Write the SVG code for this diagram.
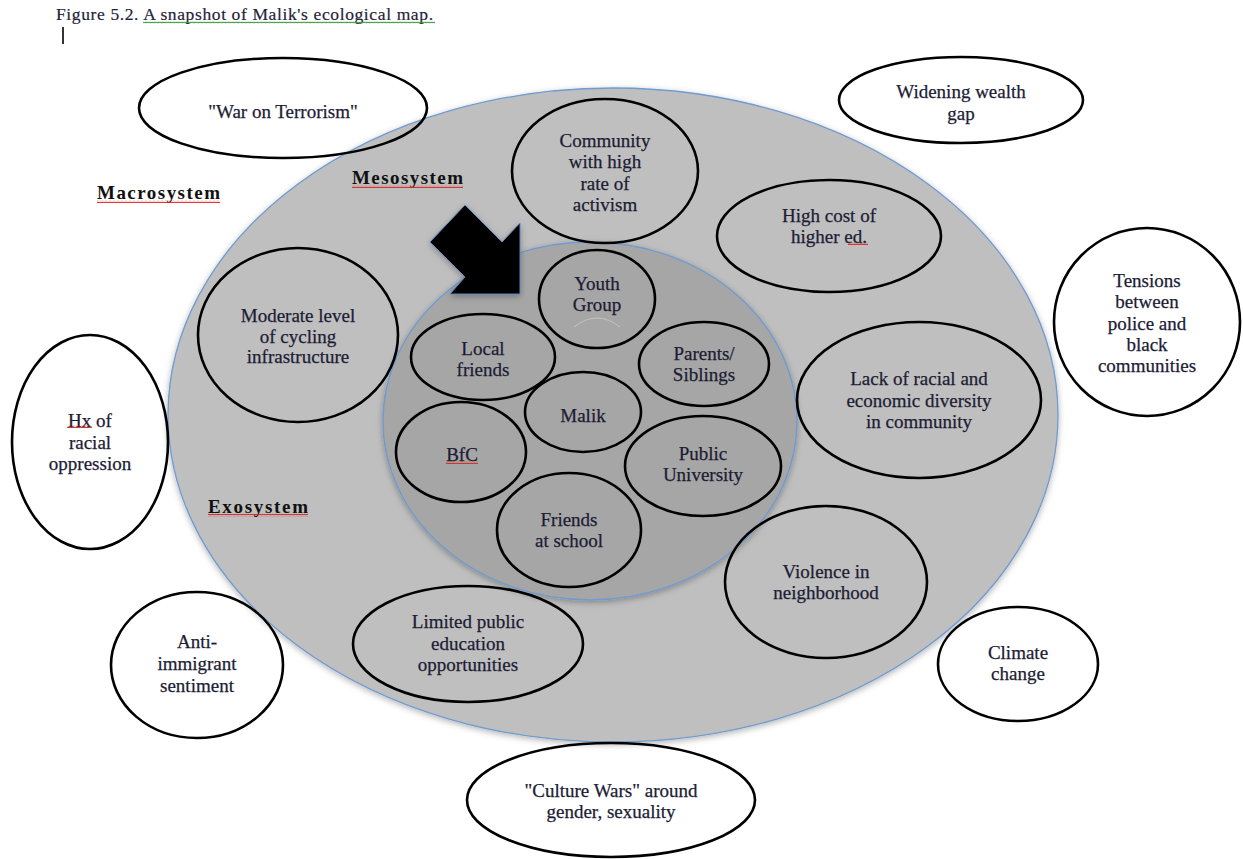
<svg xmlns="http://www.w3.org/2000/svg" width="1243" height="859" viewBox="0 0 1243 859">
  <style>
    .t { font-family: "Liberation Serif", "Times New Roman", serif; font-size: 19px; fill: #1c1c34; stroke: #1c1c34; stroke-width: 0.25; text-anchor: middle; }
    .lbl { font-family: "Liberation Serif", "Times New Roman", serif; font-size: 19px; font-weight: bold; fill: #111; }
    .cap { font-family: "Liberation Serif", "Times New Roman", serif; font-size: 17.5px; fill: #1f1f3a; stroke: #1f1f3a; stroke-width: 0.2; }
    .ring { fill: none; stroke: #000; stroke-width: 2.6; }
    .sys { stroke: #6f9bd0; stroke-width: 1.3; }
  </style>
  <defs>
    <filter id="soft" x="-10%" y="-10%" width="120%" height="125%">
      <feDropShadow dx="0" dy="2" stdDeviation="3" flood-color="#000" flood-opacity="0.3"/>
    </filter>
    <pattern id="wavyRed" width="4" height="3" patternUnits="userSpaceOnUse">
      <path d="M0 2.2 L1 0.8 L2 2.2 L3 0.8 L4 2.2" fill="none" stroke="#e02020" stroke-width="0.9"/>
    </pattern>
    <pattern id="wavyGreen" width="4" height="3" patternUnits="userSpaceOnUse">
      <path d="M0 2.2 L1 0.8 L2 2.2 L3 0.8 L4 2.2" fill="none" stroke="#3a9a3a" stroke-width="0.9"/>
    </pattern>
  </defs>

  <rect width="1243" height="859" fill="#fff"/>

  <!-- caption -->
  <g id="caption">
    <text class="cap" x="56" y="20" textLength="377" lengthAdjust="spacing">Figure 5.2. A snapshot of Malik's ecological map.</text>
    <rect x="143" y="21" width="292" height="3" fill="url(#wavyGreen)"/>
    <line x1="63" y1="27" x2="63" y2="44" stroke="#000" stroke-width="1.6"/>
  </g>

  <!-- system layers -->
  <g id="exosystem-area">
    <ellipse class="sys" cx="613" cy="415" rx="445" ry="327" fill="#bfbfbf" filter="url(#soft)"/>
  </g>
  <g id="microsystem-area">
    <ellipse class="sys" cx="590" cy="421" rx="207" ry="179" fill="#a6a6a6" filter="url(#soft)"/>
  </g>

  <!-- arrow pointing into the microsystem -->
  <g id="connectors">
    <polygon points="465,205 502,242 520,223 520,294 450,294 465,277 430,242" fill="#000" stroke="#5b86bd" stroke-width="1" filter="url(#soft)"/>
  </g>

  <!-- layer labels -->
  <g id="label-macrosystem">
    <text class="lbl" x="97" y="199" textLength="123" lengthAdjust="spacing">Macrosystem</text>
    <rect x="97" y="200" width="123" height="3" fill="url(#wavyRed)"/>
  </g>
  <g id="label-mesosystem">
    <text class="lbl" x="352" y="184" textLength="111" lengthAdjust="spacing">Mesosystem</text>
    <rect x="352" y="185" width="111" height="3" fill="url(#wavyRed)"/>
  </g>
  <g id="label-exosystem">
    <text class="lbl" x="208" y="513" textLength="100" lengthAdjust="spacing">Exosystem</text>
    <rect x="208" y="514" width="100" height="3" fill="url(#wavyRed)"/>
  </g>

  <!-- macrosystem factors -->
  <g id="war-on-terrorism">
    <ellipse class="ring" cx="283" cy="108" rx="144" ry="50"/>
    <text class="t" x="283" y="118">"War on Terrorism"</text>
  </g>
  <g id="wealth-gap">
    <ellipse class="ring" cx="961" cy="100" rx="122" ry="43"/>
    <text class="t" x="961" y="98">Widening wealth</text>
    <text class="t" x="961" y="120">gap</text>
  </g>
  <g id="police-tensions">
    <ellipse class="ring" cx="1147" cy="322" rx="93" ry="94"/>
    <text class="t" x="1147" y="287">Tensions</text>
    <text class="t" x="1147" y="308">between</text>
    <text class="t" x="1147" y="330">police and</text>
    <text class="t" x="1147" y="351">black</text>
    <text class="t" x="1147" y="372">communities</text>
  </g>
  <g id="racial-oppression">
    <ellipse class="ring" cx="90" cy="442" rx="78" ry="107"/>
    <text class="t" x="90" y="427">Hx of</text>
    <rect x="67" y="425" width="25" height="3" fill="url(#wavyRed)"/>
    <text class="t" x="90" y="449">racial</text>
    <text class="t" x="90" y="470">oppression</text>
  </g>
  <g id="anti-immigrant">
    <ellipse class="ring" cx="197" cy="665" rx="86" ry="73"/>
    <text class="t" x="197" y="648">Anti-</text>
    <text class="t" x="197" y="670">immigrant</text>
    <text class="t" x="197" y="692">sentiment</text>
  </g>
  <g id="culture-wars">
    <ellipse class="ring" cx="611" cy="800" rx="144" ry="57"/>
    <text class="t" x="611" y="797">"Culture Wars" around</text>
    <text class="t" x="611" y="818">gender, sexuality</text>
  </g>
  <g id="climate-change">
    <ellipse class="ring" cx="1018" cy="664" rx="80" ry="57"/>
    <text class="t" x="1018" y="659">Climate</text>
    <text class="t" x="1018" y="680">change</text>
  </g>

  <!-- exosystem factors -->
  <g id="community-activism">
    <ellipse class="ring" cx="605" cy="171" rx="93" ry="72"/>
    <text class="t" x="605" y="147">Community</text>
    <text class="t" x="605" y="168">with high</text>
    <text class="t" x="605" y="190">rate of</text>
    <text class="t" x="605" y="211">activism</text>
  </g>
  <g id="higher-ed-cost">
    <ellipse class="ring" cx="829" cy="236" rx="112" ry="56"/>
    <text class="t" x="829" y="222">High cost of</text>
    <text class="t" x="829" y="243">higher ed.</text>
    <rect x="848" y="242" width="20" height="3" fill="url(#wavyRed)"/>
  </g>
  <g id="cycling-infrastructure">
    <ellipse class="ring" cx="298" cy="335" rx="100" ry="87"/>
    <text class="t" x="298" y="322">Moderate level</text>
    <text class="t" x="298" y="343">of cycling</text>
    <text class="t" x="298" y="363">infrastructure</text>
  </g>
  <g id="diversity">
    <ellipse class="ring" cx="919" cy="400" rx="122" ry="78"/>
    <text class="t" x="919" y="385">Lack of racial and</text>
    <text class="t" x="919" y="407">economic diversity</text>
    <text class="t" x="919" y="428">in community</text>
  </g>
  <g id="neighborhood-violence">
    <ellipse class="ring" cx="826" cy="582" rx="101" ry="76"/>
    <text class="t" x="826" y="578">Violence in</text>
    <text class="t" x="826" y="599">neighborhood</text>
  </g>
  <g id="public-education">
    <ellipse class="ring" cx="468" cy="644" rx="115" ry="58"/>
    <text class="t" x="468" y="628">Limited public</text>
    <text class="t" x="468" y="650">education</text>
    <text class="t" x="468" y="671">opportunities</text>
  </g>

  <!-- microsystem -->
  <g id="youth-group">
    <ellipse class="ring" cx="597" cy="299" rx="58" ry="49"/>
    <path d="M574 327 Q597 309 620 327" fill="none" stroke="#c4c4c4" stroke-width="1"/>
    <text class="t" x="597" y="290">Youth</text>
    <text class="t" x="597" y="311">Group</text>
  </g>
  <g id="local-friends">
    <ellipse class="ring" cx="483" cy="357" rx="72" ry="43"/>
    <text class="t" x="483" y="355">Local</text>
    <text class="t" x="483" y="376">friends</text>
  </g>
  <g id="parents-siblings">
    <ellipse class="ring" cx="704" cy="364" rx="65" ry="42"/>
    <text class="t" x="704" y="360">Parents/</text>
    <text class="t" x="704" y="381">Siblings</text>
  </g>
  <g id="malik">
    <ellipse class="ring" cx="583" cy="412" rx="58" ry="40"/>
    <text class="t" x="583" y="422">Malik</text>
  </g>
  <g id="bfc">
    <ellipse class="ring" cx="461" cy="452" rx="65" ry="50"/>
    <text class="t" x="462" y="461">BfC</text>
    <rect x="446" y="461" width="32" height="3" fill="url(#wavyRed)"/>
  </g>
  <g id="public-university">
    <ellipse class="ring" cx="703" cy="466" rx="78" ry="50"/>
    <text class="t" x="703" y="460">Public</text>
    <text class="t" x="703" y="481">University</text>
  </g>
  <g id="friends-at-school">
    <ellipse class="ring" cx="569" cy="530" rx="72" ry="57"/>
    <text class="t" x="569" y="526">Friends</text>
    <text class="t" x="569" y="547">at school</text>
  </g>
</svg>
